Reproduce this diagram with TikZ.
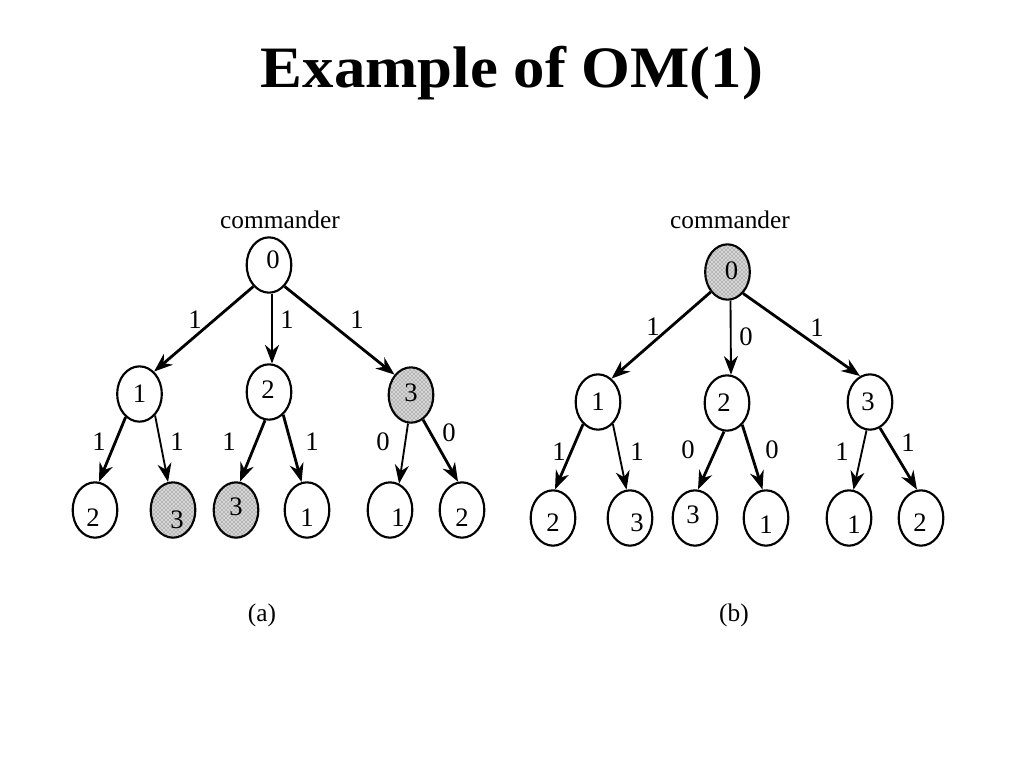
\documentclass[tikz,border=0pt]{standalone}
\usepackage{fontspec}
\setmainfont{Liberation Serif}
\usetikzlibrary{shapes.geometric,arrows.meta,patterns}
\begin{document}
\begin{tikzpicture}[x=0.75pt,y=-0.75pt,
  el/.style={ellipse,draw,line width=1.6pt,minimum width=33.5pt,minimum height=41.5pt,inner sep=0pt},
  shd/.style={fill=black!16,postaction={pattern=crosshatch dots,pattern color=black!70}},
  dg/.style={font=\fontsize{20}{22}\selectfont,inner sep=0pt},
  lbl/.style={font=\fontsize{20}{22}\selectfont,inner sep=0pt},
  captxt/.style={font=\fontsize{19}{20}\selectfont,inner sep=0pt},
  thk/.style={line width=2.1pt,-{Stealth[length=14pt,width=10.5pt,inset=4.5pt]}},
  thn/.style={line width=1.4pt,-{Stealth[length=14pt,width=10.5pt,inset=4.5pt]}},
]
\useasboundingbox (0,0) rectangle (1024,768);
\node[font=\bfseries\fontsize{44}{48}\selectfont, anchor=base] (title) at (512,87) {\scalebox{1.07}[1]{Example of OM(1)}};

% tree (a)
\node[captxt,anchor=base] (cma) at (280,228) {commander};
\node[el,label={[dg,xshift=3pt,yshift=3.75pt]center:0}] (ra) at (269,265) {};
\node[el,label={[dg]center:1}] (a1) at (139.5,394) {};
\node[el,label={[dg,xshift=-0.75pt,yshift=1.5pt]center:2}] (a2) at (269,392) {};
\node[el,shd,label={[dg,yshift=1.5pt]center:3}] (a3) at (411,395) {};
\node[el,label={[dg,xshift=-1.5pt,yshift=-6pt]center:2}] (aa) at (95,510) {};
\node[el,shd,label={[dg,xshift=3pt,yshift=-7.5pt]center:3}] (ab) at (173,510) {};
\node[el,shd,label={[dg,yshift=2.25pt]center:3}] (ac) at (236,510) {};
\node[el,label={[dg,yshift=-6pt]center:1}] (ad) at (307,510) {};
\node[el,label={[dg,xshift=6pt,yshift=-6pt]center:1}] (ae) at (390,510) {};
\node[el,label={[dg,yshift=-6pt]center:2}] (af) at (462,510) {};

\draw[thk] (ra.234) -- (a1.57);
\draw[thn] (ra.276) -- (a2.84);
\draw[thk] (ra.306) -- (a3.129);
\draw[thk] (a1.239) -- (aa.82);
\draw[thn] (a1.306) -- (ab.100);
\draw[thk] (a2.262) -- (ac.82);
\draw[thk] (a2.302) -- (ad.101);
\draw[thn] (a3.264) -- (ae.71);
\draw[thk] (a3.296) -- (af.98);

\node[lbl] (ea1) at (195,320) {1};
\node[lbl] (ea2) at (287,320) {1};
\node[lbl] (ea3) at (357,320) {1};
\node[lbl] (ea4) at (99,442) {1};
\node[lbl] (ea5) at (177,442) {1};
\node[lbl] (ea6) at (229,442) {1};
\node[lbl] (ea7) at (312,442) {1};
\node[lbl] (ea8) at (383,442) {0};
\node[lbl] (ea9) at (449,433) {0};
\node[captxt,anchor=base] (capa) at (262,621) {(a)};

% tree (b)
\node[captxt,anchor=base] (cmb) at (730,228) {commander};
\node[el,shd,label={[dg,xshift=3pt,yshift=0.75pt]center:0}] (rb) at (727.5,272) {};
\node[el,label={[dg]center:1}] (b1) at (598,402) {};
\node[el,label={[dg,xshift=-2.25pt]center:2}] (b2) at (727,403) {};
\node[el,label={[dg,xshift=-1.5pt]center:3}] (b3) at (870,402) {};
\node[el,label={[dg,yshift=-3.75pt]center:2}] (ba) at (553,518) {};
\node[el,label={[dg,xshift=5.25pt,yshift=-3.75pt]center:3}] (bb) at (630,518) {};
\node[el,label={[dg,xshift=-1.5pt,yshift=2.25pt]center:3}] (bc) at (695,518) {};
\node[el,label={[dg,yshift=-5.25pt]center:1}] (bd) at (766,518) {};
\node[el,label={[dg,xshift=3.75pt,yshift=-5.25pt]center:1}] (be) at (849,518) {};
\node[el,label={[dg,xshift=-0.75pt,yshift=-3.75pt]center:2}] (bf) at (921,518) {};

\draw[thk] (rb.230) -- (b1.60);
\draw[thn] (rb.276) -- (b2.82);
\draw[thk] (rb.306) -- (b3.111);
\draw[thk] (b1.236) -- (ba.86);
\draw[thn] (b1.304) -- (bb.97);
\draw[thk] (b2.264) -- (bc.84);
\draw[thk] (b2.305) -- (bd.97);
\draw[thn] (b3.263) -- (be.81);
\draw[thk] (b3.291) -- (bf.98);

\node[lbl] (eb1) at (653,327) {1};
\node[lbl] (eb2) at (746,337) {0};
\node[lbl] (eb3) at (817,328) {1};
\node[lbl] (eb4) at (559,452) {1};
\node[lbl] (eb5) at (637,452) {1};
\node[lbl] (eb6) at (688,450) {0};
\node[lbl] (eb7) at (772,450) {0};
\node[lbl] (eb8) at (842,452) {1};
\node[lbl] (eb9) at (908,443) {1};
\node[captxt,anchor=base] (capb) at (734,621) {(b)};
\end{tikzpicture}
\end{document}
